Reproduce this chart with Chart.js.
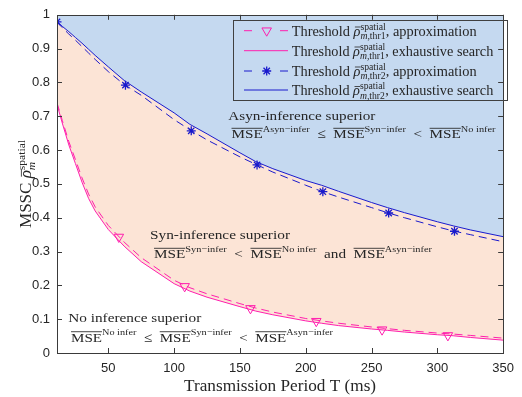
<!DOCTYPE html>
<html><head><meta charset="utf-8">
<script src="https://cdn.jsdelivr.net/npm/chart.js@4.4.1/dist/chart.umd.min.js"></script>
<style>html,body{margin:0;padding:0;background:#fff}#wrap{width:522px;height:397px}</style>
</head><body><div id="wrap"><canvas id="c" width="522" height="397"></canvas></div>
<script>
// ---------- data ----------
const tExh = [11, 15, 20, 25, 30, 35, 40, 50, 62, 75, 100, 112, 125, 150, 162, 175, 200, 212, 225, 250, 262, 275, 300, 312, 325, 350];
const thr2Exh = [0.980, 0.966, 0.950, 0.933, 0.916, 0.898, 0.880, 0.846, 0.806, 0.772, 0.710, 0.676, 0.648, 0.592, 0.566, 0.545, 0.510, 0.496, 0.478, 0.445, 0.430, 0.415, 0.388, 0.376, 0.364, 0.344];
const thr1Exh = [0.735, 0.680, 0.615, 0.560, 0.505, 0.457, 0.420, 0.365, 0.316, 0.270, 0.205, 0.183, 0.165, 0.137, 0.124, 0.113, 0.095, 0.088, 0.081, 0.071, 0.067, 0.062, 0.054, 0.051, 0.046, 0.038];
const tApprox = [11, 15, 20, 25, 30, 35, 40, 50, 62, 75, 100, 112, 125, 150, 162, 175, 200, 212, 225, 250, 262, 275, 300, 312, 325, 350];
const thr2Approx = [0.979, 0.962, 0.943, 0.925, 0.906, 0.887, 0.868, 0.832, 0.794, 0.762, 0.690, 0.660, 0.630, 0.580, 0.558, 0.535, 0.496, 0.478, 0.461, 0.430, 0.415, 0.400, 0.373, 0.361, 0.350, 0.329];
const thr1Approx = [0.740, 0.688, 0.625, 0.572, 0.518, 0.470, 0.432, 0.377, 0.328, 0.282, 0.215, 0.193, 0.175, 0.146, 0.133, 0.121, 0.102, 0.095, 0.088, 0.077, 0.072, 0.067, 0.059, 0.056, 0.052, 0.044];
const starT = [11, 63, 113, 163, 213, 263, 313];
const starV = [0.979, 0.792, 0.657, 0.556, 0.477, 0.414, 0.360];
const triT = [58, 108, 158, 208, 258, 308];
const triV = [0.343, 0.197, 0.132, 0.094, 0.069, 0.052];
const xTicks = [50, 100, 150, 200, 250, 300, 350];
const xTickLabels = ['50', '100', '150', '200', '250', '300', '350'];
const yTicks = [0, 0.1, 0.2, 0.3, 0.4, 0.5, 0.6, 0.7, 0.8, 0.9, 1];
const yTickLabels = ['0', '0.1', '0.2', '0.3', '0.4', '0.5', '0.6', '0.7', '0.8', '0.9', '1'];

// ---------- styles ----------
const BLUE = '#1a1acc', PINK = '#ff1fae', BLUEFILL = '#c5d9f0', PEACH = '#fce4d6', TXT = '#262626', AX = '#3a3a3a';
const SERIF = '"Liberation Serif", "Times New Roman", serif';
const SANS = '"Liberation Sans", Arial, sans-serif';
const pts = (xs, ys) => xs.map((x, i) => ({x: x, y: ys[i]}));

function fnt(size, it) { return (it ? 'italic ' : '') + size + 'px ' + SERIF; }
function measureRich(ctx, items, size) {
  let w = 0;
  for (const it of items) {
    if (it.t !== undefined) { ctx.font = fnt(size, it.it); w += ctx.measureText(it.t).width; }
    else {
      const ss = size * 0.68; let ws = 0, wb = 0;
      if (it.sup) { ctx.font = fnt(ss, false); ws = ctx.measureText(it.sup).width; }
      if (it.sub) { for (const [s, i] of it.sub) { ctx.font = fnt(ss, i); wb += ctx.measureText(s).width; } }
      w += Math.max(ws, wb) + (it.gap || 0);
    }
  }
  return w;
}
function drawRich(ctx, x, y, items, size, targetW, color) {
  const W = measureRich(ctx, items, size);
  const sx = targetW ? targetW / W : 1;
  ctx.save(); ctx.translate(x, y); ctx.scale(sx, 1);
  ctx.fillStyle = color; ctx.strokeStyle = color; ctx.textBaseline = 'alphabetic'; ctx.textAlign = 'left';
  let cx = 0;
  for (const it of items) {
    if (it.t !== undefined) {
      ctx.font = fnt(size, it.it); const w = ctx.measureText(it.t).width;
      ctx.fillText(it.t, cx, 0);
      if (it.ov) { ctx.lineWidth = 0.8; ctx.beginPath(); ctx.moveTo(cx, -size * 0.74); ctx.lineTo(cx + w, -size * 0.74); ctx.stroke(); }
      if (it.bar) { ctx.lineWidth = 0.8; ctx.beginPath(); ctx.moveTo(cx + size * 0.1, -size * 0.6); ctx.lineTo(cx + w + size * 0.02, -size * 0.6); ctx.stroke(); }
      cx += w;
    } else {
      const ss = size * 0.68; let ws = 0, wb = 0;
      if (it.sup) { ctx.font = fnt(ss, false); ws = ctx.measureText(it.sup).width; ctx.fillText(it.sup, cx, -size * (it.sub ? 0.4 : 0.48)); }
      if (it.sub) { let p = cx; for (const [s, i] of it.sub) { ctx.font = fnt(ss, i); ctx.fillText(s, p, size * 0.25); p += ctx.measureText(s).width; } wb = p - cx; }
      cx += Math.max(ws, wb) + (it.gap || 0);
    }
  }
  ctx.restore();
}
const MSE = (s) => [{t: 'MSE', ov: true}, {sup: s}];
const legendRows = [
  {kind: 'tri', items: [{t: 'Threshold '}, {t: 'ρ', it: true, bar: true}, {sup: 'spatial', sub: [['m', true], [',thr1', false]]}, {t: ', approximation'}], w: 185},
  {kind: 'pink', items: [{t: 'Threshold '}, {t: 'ρ', it: true, bar: true}, {sup: 'spatial', sub: [['m', true], [',thr1', false]]}, {t: ', exhaustive search'}], w: 201.6},
  {kind: 'star', items: [{t: 'Threshold '}, {t: 'ρ', it: true, bar: true}, {sup: 'spatial', sub: [['m', true], [',thr2', false]]}, {t: ', approximation'}], w: 185},
  {kind: 'blue', items: [{t: 'Threshold '}, {t: 'ρ', it: true, bar: true}, {sup: 'spatial', sub: [['m', true], [',thr2', false]]}, {t: ', exhaustive search'}], w: 201.6}
];
const notes = [
  {x: 228.3, y: 120, w: 147, items: [{t: 'Asyn-inference superior'}]},
  {x: 231.5, y: 138.3, w: 264, items: [...MSE('Asyn−infer'), {t: '  ≤  '}, ...MSE('Syn−infer'), {t: '  <  '}, ...MSE('No infer')]},
  {x: 150, y: 239.3, w: 140, items: [{t: 'Syn-inference superior'}]},
  {x: 154, y: 258.3, w: 278, items: [...MSE('Syn−infer'), {t: '  <  '}, ...MSE('No infer'), {t: '  and  '}, ...MSE('Asyn−infer')]},
  {x: 68.3, y: 321.7, w: 133, items: [{t: 'No inference superior'}]},
  {x: 71, y: 341.7, w: 262, items: [...MSE('No infer'), {t: '  ≤  '}, ...MSE('Syn−infer'), {t: '  <  '}, ...MSE('Asyn−infer')]}
];

const decor = {
  id: 'decor',
  afterDraw(chart) {
    const ctx = chart.ctx, a = chart.chartArea, xs = chart.scales.x, ys = chart.scales.y;
    ctx.save();
    // frame + inside ticks
    ctx.strokeStyle = AX; ctx.lineWidth = 1;
    ctx.strokeRect(Math.round(a.left) + 0.5, Math.round(a.top) + 0.5, Math.round(a.right - a.left), Math.round(a.bottom - a.top));
    ctx.beginPath();
    xTicks.forEach(v => { const px = Math.round(xs.getPixelForValue(v)) + 0.5; ctx.moveTo(px, a.bottom); ctx.lineTo(px, a.bottom - 5); ctx.moveTo(px, a.top); ctx.lineTo(px, a.top + 5); });
    yTicks.forEach(v => { const py = Math.round(ys.getPixelForValue(v)) + 0.5; ctx.moveTo(a.left, py); ctx.lineTo(a.left + 5, py); ctx.moveTo(a.right, py); ctx.lineTo(a.right - 5, py); });
    ctx.stroke();
    // legend
    ctx.strokeStyle = '#404040'; ctx.lineWidth = 1;
    ctx.strokeRect(233.5, 20.5, 274, 80);
    const sampleY = [30.7, 50.7, 71, 90], baseY = [35.7, 55.7, 75.7, 95.2];
    legendRows.forEach((r, i) => {
      const y = sampleY[i];
      const col = (r.kind === 'tri' || r.kind === 'pink') ? PINK : BLUE;
      ctx.strokeStyle = col; ctx.fillStyle = 'rgba(0,0,0,0)'; ctx.lineWidth = 1; ctx.setLineDash([]);
      ctx.beginPath();
      if (r.kind === 'tri' || r.kind === 'star') { ctx.moveTo(244, y); ctx.lineTo(252, y); ctx.moveTo(280, y); ctx.lineTo(288, y); }
      else { ctx.moveTo(244, y); ctx.lineTo(288, y); }
      ctx.stroke();
      if (r.kind === 'tri') { ctx.strokeStyle = PINK; ctx.fillStyle = 'rgba(0,0,0,0)'; ctx.lineWidth = 1; Chart.helpers.drawPoint(ctx, {pointStyle: 'triangle', rotation: 180, radius: 5.5, borderWidth: 1}, 266.7, y); }
      if (r.kind === 'star') { ctx.strokeStyle = BLUE; ctx.fillStyle = BLUE; ctx.lineWidth = 1.3; Chart.helpers.drawPoint(ctx, {pointStyle: 'star', rotation: 0, radius: 4.5, borderWidth: 1.3}, 266.7, y); }
      drawRich(ctx, 291.7, baseY[i], r.items, 14.5, r.w, TXT);
    });
    // annotations
    notes.forEach(n => drawRich(ctx, n.x, n.y, n.items, 13.5, n.w, TXT));
    // axis titles
    const xt = [{t: 'Transmission Period T (ms)'}];
    drawRich(ctx, (a.left + a.right) / 2 - 96, 391, xt, 16, 192, TXT);
    ctx.save(); ctx.translate(31, 184); ctx.rotate(-Math.PI / 2);
    drawRich(ctx, -44, 0, [{t: 'MSSC '}, {t: 'ρ', it: true, bar: true}, {sup: 'spatial', sub: [['m', true]]}], 16, 88, TXT);
    ctx.restore();
    ctx.restore();
  }
};

new Chart(document.getElementById('c'), {
  type: 'line',
  data: {
    datasets: [
      {label: 'thr2 exhaustive', data: pts(tExh, thr2Exh), borderColor: BLUE, borderWidth: 1, pointRadius: 0, fill: 'end', backgroundColor: BLUEFILL},
      {label: 'thr1 exhaustive', data: pts(tExh, thr1Exh), borderColor: PINK, borderWidth: 1, pointRadius: 0, fill: {target: 0}, backgroundColor: PEACH},
      {label: 'thr2 approximation', data: pts(tApprox, thr2Approx), borderColor: BLUE, borderWidth: 1, borderDash: [8, 5], pointRadius: 0, fill: false},
      {label: 'thr1 approximation', data: pts(tApprox, thr1Approx), borderColor: PINK, borderWidth: 1, borderDash: [8, 5], pointRadius: 0, fill: false},
      {label: 'thr2 markers', data: pts(starT, starV), showLine: false, pointStyle: 'star', pointRadius: 4.5, borderColor: BLUE, backgroundColor: BLUE, pointBorderWidth: 1.3, fill: false},
      {label: 'thr1 markers', data: pts(triT, triV), showLine: false, pointStyle: 'triangle', rotation: 180, pointRotation: 180, pointRadius: 5.5, borderColor: PINK, backgroundColor: 'rgba(0,0,0,0)', pointBorderWidth: 1, fill: false}
    ]
  },
  options: {
    responsive: false, animation: false, devicePixelRatio: 1,
    layout: {padding: {top: 14, right: 12, left: 0, bottom: 0}},
    plugins: {legend: {display: false}, tooltip: {enabled: false}, filler: {drawTime: 'beforeDatasetsDraw'}},
    elements: {line: {tension: 0}},
    scales: {
      x: {type: 'linear', min: 11, max: 350,
        afterBuildTicks: s => { s.ticks = xTicks.map(v => ({value: v})); },
        afterFit: s => { s.height = 44; },
        ticks: {autoSkip: false, maxRotation: 0, padding: 8, color: TXT, font: {family: SANS, size: 13}, callback: (v, i) => xTickLabels[i]},
        grid: {display: false, drawTicks: false}, border: {display: false}},
      y: {type: 'linear', min: 0, max: 1,
        afterBuildTicks: s => { s.ticks = yTicks.map(v => ({value: v})); },
        afterFit: s => { s.width = 57; },
        ticks: {autoSkip: false, padding: 7, color: TXT, font: {family: SANS, size: 13}, callback: (v, i) => yTickLabels[i]},
        grid: {display: false, drawTicks: false}, border: {display: false}}
    }
  },
  plugins: [decor]
});
</script></body></html>
